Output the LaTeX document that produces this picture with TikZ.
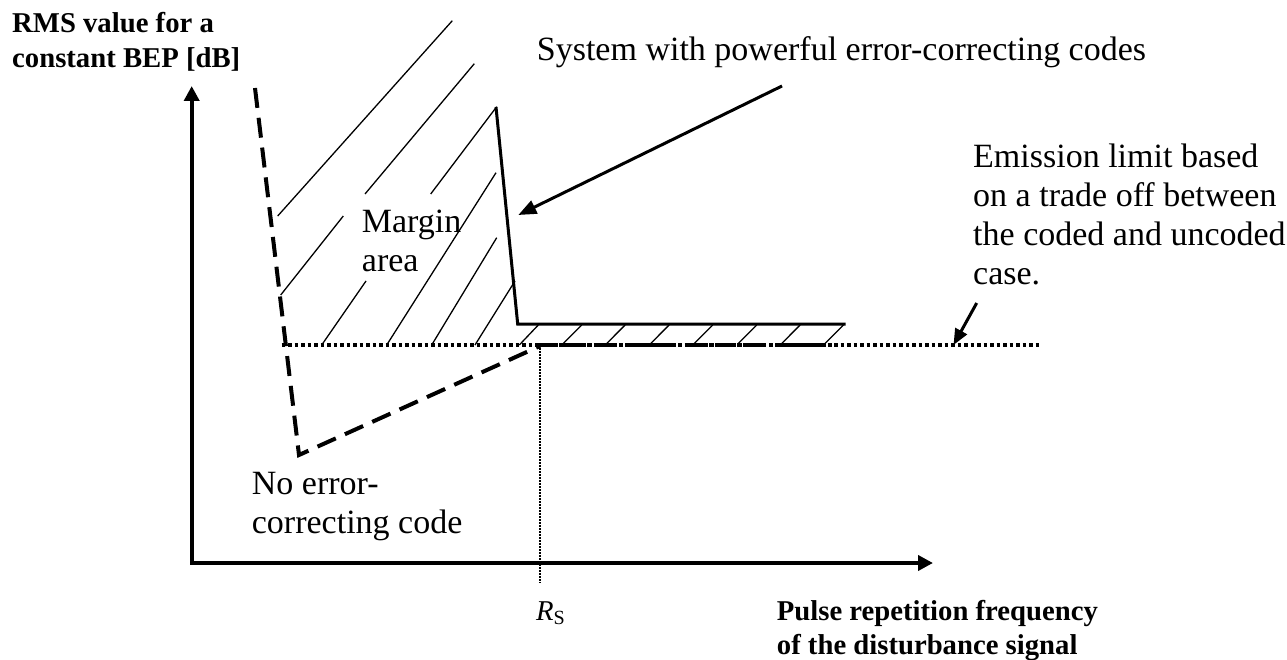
\documentclass[tikz,border=0pt]{standalone}
\usepackage{fontspec}
\setmainfont{Liberation Serif}
\usetikzlibrary{arrows.meta}
\tikzset{
  axisline/.style={line width=4pt, line join=miter,
    {Triangle[length=15pt,width=15pt]}-{Triangle[length=15pt,width=15pt]}},
  nocode/.style={line width=4pt, dash pattern=on 20pt off 10pt, line join=miter},
  coded/.style={line width=3pt, line join=miter},
  limitline/.style={line width=3.5pt, dash pattern=on 3.5pt off 3pt},
  codedflat/.style={line width=4pt, dash pattern=on 21pt off 3pt on 3pt off 3pt},
  hatchline/.style={line width=1.3pt},
  guide/.style={line width=1.5pt, dash pattern=on 1.5pt off 1.5pt},
  pointer/.style={line width=3pt, -{Triangle[length=18pt,width=14pt]}},
  txt/.style={anchor=base west, inner sep=0pt, font=\fontsize{34}{39}\selectfont},
  axlabel/.style={anchor=base west, inner sep=0pt, font=\fontsize{28.7}{35}\selectfont\bfseries},
}
\begin{document}
\begin{tikzpicture}[x=1pt, y=-1pt]
\useasboundingbox (0,0) rectangle (1287,660);

% axes
\coordinate (ytip) at (191.7,86);
\coordinate (origin) at (191.7,563);
\coordinate (xtip) at (933,563);
\draw[axisline] (ytip) -- (origin) -- (xtip);

% curve without error-correcting code
\coordinate (nc1) at (255,88);
\coordinate (nc2) at (299,455);
\coordinate (nc3) at (540,346);
\draw[nocode] (nc1) -- (nc2) -- (nc3);

% curve with powerful error-correcting codes
\coordinate (c1) at (496,107);
\coordinate (c2) at (517.7,324);
\coordinate (c3) at (845.7,324);
\draw[coded] (c1) -- (c2) -- (c3);

% emission limit and coded floor
\coordinate (l1) at (281.7,345);
\coordinate (l2) at (1042,345);
\draw[limitline] (l1) -- (l2);
\coordinate (f1) at (535,345);
\coordinate (f2) at (836,345);
\draw[codedflat] (f1) -- (f2);

% R_S guide
\coordinate (g1) at (540,345);
\coordinate (g2) at (540,583);
\draw[guide] (g1) -- (g2);

% hatching of the margin area
\foreach \i/\a/\b/\c/\d in {
  1/277.7/216/452.3/20.7,
  2/365/194/474.3/63.7,
  3/430.7/194/496.7/106.7,
  4/280.7/295/343.3/216,
  5/386.7/345/496/172.7,
  6/321.7/345/366/281,
  7/431.7/345/496.7/237.7,
  8/475/345/515/281,
  9/519.3/345/538.3/325}{
  \coordinate (ha\i) at (\a,\b);
  \coordinate (hb\i) at (\c,\d);
  \draw[hatchline] (ha\i) -- (hb\i);
}
\foreach \x [count=\k] in {563.3,606.7,650.7,694.3,738.3,781.7,825}{
  \coordinate (sa\k) at (\x,343.5);
  \coordinate (sb\k) at ({\x+18.4},325);
  \draw[hatchline] (sa\k) -- (sb\k);
}

% pointers
\coordinate (p1s) at (782,86);
\coordinate (p1e) at (518.3,215);
\draw[pointer] (p1s) -- (p1e);
\coordinate (p2s) at (976.7,303);
\coordinate (p2e) at (953.5,345);
\draw[pointer, -{Triangle[length=16pt,width=13pt]}] (p2s) -- (p2e);

% labels
\node[axlabel] (yl1) at (12,33) {RMS value for a};
\node[axlabel] (yl2) at (12,68) {constant BEP [dB]};
\node[axlabel] (xl1) at (776.7,620.7) {Pulse repetition frequency};
\node[axlabel] (xl2) at (776.7,654) {of the disturbance signal};
\node[txt] (sys) at (536.7,61) {System with powerful error-correcting codes};
\node[txt] (em1) at (973,168) {Emission limit based};
\node[txt] (em2) at (973,206.7) {on a trade off between};
\node[txt] (em3) at (973,245.3) {the coded and uncoded};
\node[txt] (em4) at (973,284) {case.};
\node[txt] (mg1) at (361.7,233) {Margin};
\node[txt] (mg2) at (361.7,271.7) {area};
\node[txt] (ne1) at (251.7,494) {No error-};
\node[txt] (ne2) at (251.7,533) {correcting code};
\node[anchor=base west, inner sep=0pt, font=\fontsize{28.7}{35}\selectfont] (rs) at (536,620) {\textit{R}\textsubscript{S}};
\end{tikzpicture}
\end{document}
